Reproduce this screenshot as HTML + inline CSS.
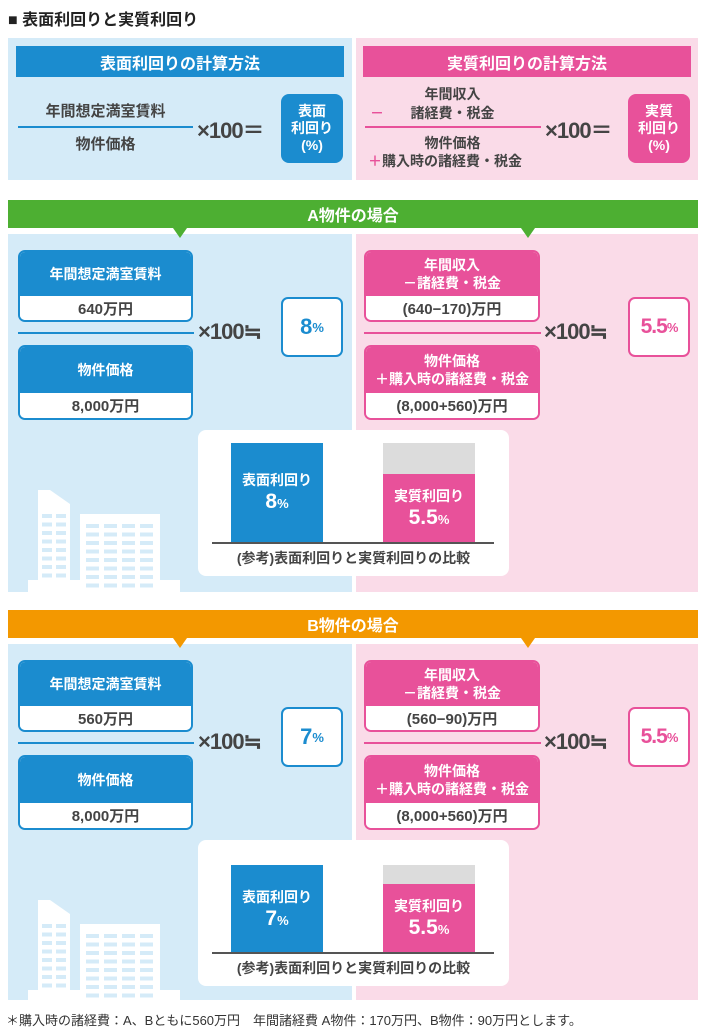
<!DOCTYPE html>
<html><head><meta charset="utf-8">
<style>
*{margin:0;padding:0;box-sizing:border-box}
body{width:704px;height:1034px;background:#fff;position:relative;overflow:hidden;font-family:"Liberation Sans","Noto Sans CJK JP",sans-serif;font-weight:bold;color:#444}
.a{position:absolute}
.c{display:flex;align-items:center;justify-content:center;text-align:center}
.bluebg{background:#d5ebf8}.pinkbg{background:#fadbe8}
.hb{background:#1b8ccf;color:#fff}.hp{background:#e8519a;color:#fff}
.t15{font-size:15px}.t14{font-size:14px}
.box{border-radius:7px;overflow:hidden}
.bb{border:2px solid #1b8ccf}.bp{border:2px solid #e8519a}
.wh{background:#fff;color:#444;font-size:15px}
.line{height:1.5px}
.big{font-size:22px;color:#444;letter-spacing:-1px}
</style></head><body>
<div class="a" style="left:8px;top:6px;font-size:16px;color:#222">■ 表面利回りと実質利回り</div>

<!-- formulas -->
<div class="a bluebg" style="left:8px;top:38px;width:344px;height:142px"></div>
<div class="a pinkbg" style="left:356px;top:38px;width:342px;height:142px"></div>
<div class="a hb c" style="left:16px;top:46px;width:328px;height:31px;font-size:16px">表面利回りの計算方法</div>
<div class="a hp c" style="left:363px;top:46px;width:328px;height:31px;font-size:16px">実質利回りの計算方法</div>
<div class="a c t15" style="left:18px;top:100px;width:175px;height:20px">年間想定満室賃料</div>
<div class="a line" style="left:18px;top:126px;width:175px;background:#1b8ccf"></div>
<div class="a c t15" style="left:18px;top:133px;width:175px;height:20px">物件価格</div>
<div class="a big" style="left:197px;top:113px">×100＝</div>
<div class="a hb c box" style="left:281px;top:94px;width:62px;height:69px;font-size:14px;line-height:17px;border-radius:8px">表面<br>利回り<br>(%)</div>

<div class="a c t14" style="left:365px;top:84px;width:175px;height:20px">年間収入</div>
<div class="a t14" style="left:370px;top:103px;color:#e8519a">－</div>
<div class="a c t14" style="left:365px;top:103px;width:175px;height:20px">諸経費・税金</div>
<div class="a line" style="left:365px;top:126px;width:176px;background:#e8519a"></div>
<div class="a c t14" style="left:365px;top:133px;width:175px;height:20px">物件価格</div>
<div class="a t14" style="left:368px;top:151px"><span style="color:#e8519a">＋</span>購入時の諸経費・税金</div>
<div class="a big" style="left:545px;top:113px">×100＝</div>
<div class="a hp c box" style="left:628px;top:94px;width:62px;height:69px;font-size:14px;line-height:17px;border-radius:8px">実質<br>利回り<br>(%)</div>

<div id="sections"></div>

<div class="a" style="left:6px;top:1010px;font-size:13px;font-weight:normal;color:#333;white-space:nowrap">＊購入時の諸経費：A、Bともに560万円　年間諸経費 A物件：170万円、B物件：90万円とします。</div>

<script>
const caseNames=['A物件の場合','B物件の場合'];
const caseColors=['#4daf32','#f39800'];
const annualRent=['640万円','560万円'];
const netIncome=['(640−170)万円','(560−90)万円'];
const surfaceYield=[8,7];
const realYield=[5.5,5.5];
const surfaceLabels=['8','7'];
const realLabels=['5.5','5.5'];
const host=document.getElementById('sections');
const tops=[200,610];
function yScale(v){return v*12.4;}
function mk(parent,cls,style,html,name){
  const d=document.createElement('div');
  d.className='a '+cls;d.style.cssText=style;if(html!=null)d.innerHTML=html;
  
  
  parent.appendChild(d);return d;
}
function building(t){
  const s=document.createElementNS('http://www.w3.org/2000/svg','svg');
  
  
  s.setAttribute('style','position:absolute;left:28px;top:'+(t+288)+'px');
  s.setAttribute('width','160');s.setAttribute('height','104');
  let g='<path d="M10 104V2h12l20 14v88z" fill="#fff"/><rect x="52" y="26" width="80" height="78" fill="#fff"/><rect x="0" y="92" width="152" height="12" fill="#fff"/>';
  for(let r=0;r<8;r++){const y=26+r*8.5;g+='<rect x="14" y="'+y+'" width="10" height="4" fill="#d5ebf8"/><rect x="28" y="'+y+'" width="10" height="4" fill="#d5ebf8"/>';
    for(let c=0;c<4;c++)g+='<rect x="'+(58+c*18)+'" y="'+(y+10)+'" width="13" height="4" fill="#d5ebf8"/>';}
  s.innerHTML=g;host.appendChild(s);
}
caseNames.forEach((nm,i)=>{
  const t=tops[i];
  mk(host,'c','left:8px;top:'+t+'px;width:690px;height:28px;background:'+caseColors[i]+';color:#fff;font-size:16px',nm,'case-header-bar');
  mk(host,'','left:8px;top:'+(t+34)+'px;width:344px;height:'+(i?356:358)+'px;background:#d5ebf8','','surface-case-panel');
  mk(host,'','left:356px;top:'+(t+34)+'px;width:342px;height:'+(i?356:358)+'px;background:#fadbe8','','real-case-panel');
  [173,521].forEach(x=>mk(host,'','left:'+x+'px;top:'+(t+28)+'px;width:0;height:0;border-left:7px solid transparent;border-right:7px solid transparent;border-top:10px solid '+caseColors[i],'','pointer-triangle'));
  building(t);
  // left boxes
  const b1=mk(host,'box bb','left:18px;top:'+(t+50)+'px;width:175px;height:72px;background:#fff','','rent-box');
  mk(b1,'hb c t14','left:0;top:0;width:100%;height:44px','年間想定満室賃料','rent-label');
  mk(b1,'wh c','left:0;top:44px;width:100%;height:24px',annualRent[i],'rent-value');
  mk(host,'line','left:18px;top:'+(t+132)+'px;width:176px;background:#1b8ccf','','fraction-line');
  const b2=mk(host,'box bb','left:18px;top:'+(t+145)+'px;width:175px;height:75px;background:#fff','','price-box');
  mk(b2,'hb c t14','left:0;top:0;width:100%;height:46px','物件価格','price-label');
  mk(b2,'wh c','left:0;top:46px;width:100%;height:25px','8,000万円','price-value');
  mk(host,'big','left:198px;top:'+(t+119)+'px','×100≒','times-100');
  mk(host,'box bb c','left:281px;top:'+(t+97)+'px;width:62px;height:60px;background:#fff;color:#1b8ccf;font-size:22px',surfaceLabels[i]+'<span style="font-size:13px">%</span>','surface-yield-value');
  // right boxes
  const r1=mk(host,'box bp','left:364px;top:'+(t+50)+'px;width:176px;height:72px;background:#fff','','income-box');
  mk(r1,'hp c t14','left:0;top:0;width:100%;height:44px;line-height:18px','年間収入<br>－諸経費・税金','income-label');
  mk(r1,'wh c','left:0;top:44px;width:100%;height:24px',netIncome[i],'income-value');
  mk(host,'line','left:364px;top:'+(t+132)+'px;width:177px;background:#e8519a','','real-fraction-line');
  const r2=mk(host,'box bp','left:364px;top:'+(t+145)+'px;width:176px;height:75px;background:#fff','','cost-box');
  mk(r2,'hp c t14','left:0;top:0;width:100%;height:46px;line-height:18px','物件価格<br>＋購入時の諸経費・税金','cost-label');
  mk(r2,'wh c','left:0;top:46px;width:100%;height:25px','(8,000+560)万円','cost-value');
  mk(host,'big','left:544px;top:'+(t+119)+'px','×100≒','real-times-100');
  mk(host,'box bp c','left:628px;top:'+(t+97)+'px;width:62px;height:60px;background:#fff;color:#e8519a;font-size:21px;letter-spacing:-1px','5.5<span style="font-size:13px">%</span>','real-yield-value');
  // chart
  const card=mk(host,'','left:198px;top:'+(t+230)+'px;width:311px;height:146px;background:#fff;border-radius:8px','','comparison-chart-card');
  const base=112, mx=Math.max(surfaceYield[i],realYield[i]);
  const hs=yScale(surfaceYield[i]), hr=yScale(realYield[i]), hm=yScale(mx);
  mk(card,'','left:185px;top:'+(base-hm)+'px;width:92px;height:'+hm+'px;background:#dcdcdc','','real-bar-background');
  mk(card,'c','left:33px;top:'+(base-hs)+'px;width:92px;height:'+hs+'px;background:#1b8ccf;color:#fff;flex-direction:column;font-size:14px;line-height:22px','表面利回り<br><span style="font-size:21px">'+surfaceLabels[i]+'<span style="font-size:13px">%</span></span>','surface-yield-bar');
  mk(card,'c','left:185px;top:'+(base-hr)+'px;width:92px;height:'+hr+'px;background:#e8519a;color:#fff;flex-direction:column;font-size:14px;line-height:22px','実質利回り<br><span style="font-size:21px">'+realLabels[i]+'<span style="font-size:13px">%</span></span>','real-yield-bar');
  mk(card,'','left:14px;top:'+base+'px;width:282px;height:1.5px;background:#555','','chart-baseline');
  mk(card,'c','left:0;top:'+(base+6)+'px;width:311px;height:20px;font-size:14px','(参考)表面利回りと実質利回りの比較','chart-caption');
});
</script>
</body></html>
